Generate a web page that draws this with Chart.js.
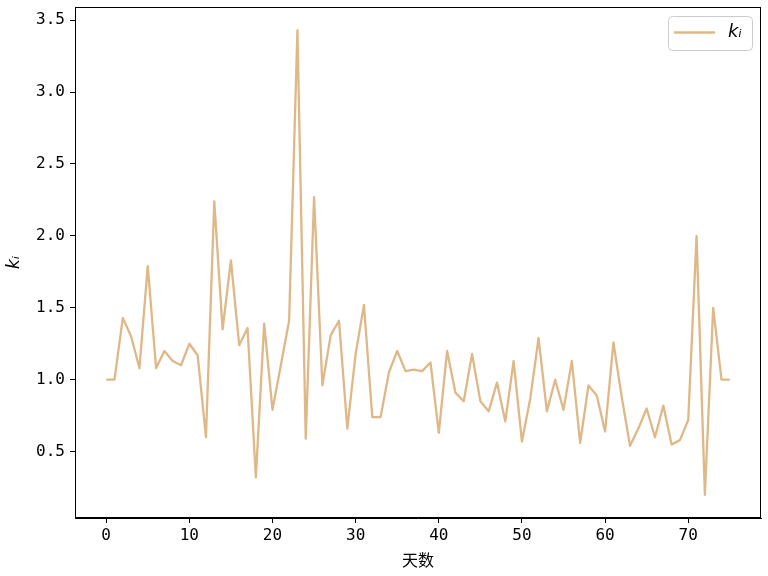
<!DOCTYPE html>
<html>
<head>
<meta charset="utf-8">
<script src="https://cdn.jsdelivr.net/npm/chart.js@4/dist/chart.umd.min.js"></script>
<style>
html,body{margin:0;padding:0;background:#fff;}
canvas{display:block;}
</style>
</head>
<body>
<canvas id="c" width="768" height="576"></canvas>
<script>
const days = [0,1,2,3,4,5,6,7,8,9,10,11,12,13,14,15,16,17,18,19,20,21,22,23,24,25,26,27,28,29,30,31,32,33,34,35,36,37,38,39,40,41,42,43,44,45,46,47,48,49,50,51,52,53,54,55,56,57,58,59,60,61,62,63,64,65,66,67,68,69,70,71,72,73,74,75];
const kValues = [1.00,1.00,1.43,1.30,1.08,1.79,1.08,1.20,1.13,1.10,
1.25,1.17,0.60,2.24,1.35,1.83,1.24,1.36,0.32,1.39,
0.79,1.10,1.41,3.43,0.59,2.27,0.96,1.31,1.41,0.66,
1.18,1.52,0.74,0.74,1.05,1.20,1.06,1.07,1.06,1.12,
0.63,1.20,0.91,0.85,1.18,0.85,0.78,0.98,0.71,1.13,
0.57,0.87,1.29,0.78,1.00,0.79,1.13,0.56,0.96,0.89,
0.64,1.26,0.88,0.54,0.66,0.80,0.60,0.82,0.55,0.58,
0.72,2.00,0.20,1.50,1.00,1.00];
const xTicks = [0,10,20,30,40,50,60,70];
const yTicks = [0.5,1.0,1.5,2.0,2.5,3.0,3.5];
const seriesLabel = 'kᵢ';
const xTitle = '天数';
const yTitle = 'kᵢ';
const lineColor = '#DEB887';

const xMinD = Math.min(...days), xMaxD = Math.max(...days);
const yMinD = Math.min(...kValues), yMaxD = Math.max(...kValues);
const xm = (xMaxD - xMinD) * 0.05, ym = (yMaxD - yMinD) * 0.05;

const tickFont = {family: "'DejaVu Sans Mono', 'Liberation Mono', monospace", size: 16};

const frameAndLegend = {
  id: 'frameAndLegend',
  afterDraw(chart) {
    const {ctx, chartArea: a} = chart;
    ctx.save();
    ctx.strokeStyle = '#000';
    ctx.lineWidth = 1;
    ctx.strokeRect(a.left + 0.5, a.top + 0.5, a.right - a.left - 1, a.bottom - a.top - 1);
    // legend
    const w = 84, h = 34;
    const x = a.right - 9 - w, y = a.top + 9;
    ctx.beginPath();
    ctx.roundRect(x + 0.5, y + 0.5, w, h, 4);
    ctx.fillStyle = 'rgba(255,255,255,0.8)';
    ctx.fill();
    ctx.strokeStyle = '#cccccc';
    ctx.stroke();
    ctx.beginPath();
    ctx.strokeStyle = lineColor;
    ctx.lineWidth = 2.3;
    ctx.moveTo(x + 6, y + 16.5);
    ctx.lineTo(x + 47, y + 16.5);
    ctx.stroke();
    ctx.fillStyle = '#000';
    ctx.font = "italic 18px 'DejaVu Sans', sans-serif";
    ctx.textBaseline = 'middle';
    ctx.textAlign = 'left';
    ctx.fillText(seriesLabel, x + 60, y + 16);
    ctx.restore();
  }
};

new Chart(document.getElementById('c'), {
  type: 'line',
  data: {
    datasets: [{
      label: seriesLabel,
      data: days.map((d, i) => ({x: d, y: kValues[i]})),
      borderColor: lineColor,
      backgroundColor: lineColor,
      borderWidth: 2.3,
      borderJoinStyle: 'round',
      borderCapStyle: 'butt',
      pointRadius: 0,
      tension: 0,
      fill: false
    }]
  },
  options: {
    responsive: false,
    animation: false,
    layout: {padding: {top: 7, right: 7, left: 0, bottom: 0}},
    plugins: {legend: {display: false}, tooltip: {enabled: false}},
    scales: {
      x: {
        type: 'linear',
        min: xMinD - xm,
        max: xMaxD + xm,
        afterBuildTicks(s) { s.ticks = xTicks.map(v => ({value: v})); },
        afterFit(s) { s.height = 58; s.paddingLeft = 0; s.paddingRight = 0; },
        grid: {drawOnChartArea: false, drawTicks: true, tickLength: 5, color: '#000', tickWidth: 1},
        border: {display: true, color: '#000', width: 1},
        ticks: {font: tickFont, color: '#000', padding: 3, maxRotation: 0, autoSkip: false,
          callback: v => String(v)},
        title: {display: true, text: xTitle, color: '#000',
          font: {family: "'Noto Sans CJK SC', sans-serif", size: 16}, padding: {top: 0, bottom: 6}}
      },
      y: {
        type: 'linear',
        min: yMinD - ym,
        max: yMaxD + ym,
        afterBuildTicks(s) { s.ticks = yTicks.map(v => ({value: v})); },
        afterFit(s) { s.width = 75; s.paddingTop = 0; s.paddingBottom = 0; },
        grid: {drawOnChartArea: false, drawTicks: true, tickLength: 5, color: '#000', tickWidth: 1},
        border: {display: true, color: '#000', width: 1},
        ticks: {font: tickFont, color: '#000', padding: 5, autoSkip: false,
          callback: v => Number(v).toFixed(1)},
        title: {display: true, text: yTitle, color: '#000',
          font: {family: "'DejaVu Sans', sans-serif", size: 17, style: 'italic'}, padding: {top: 4, bottom: 0}}
      }
    }
  },
  plugins: [frameAndLegend]
});
</script>
</body>
</html>
